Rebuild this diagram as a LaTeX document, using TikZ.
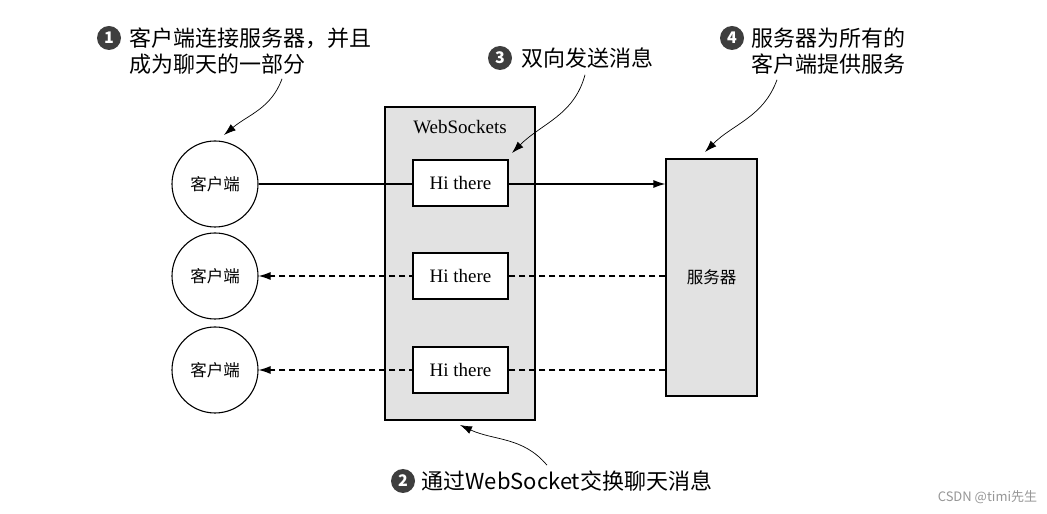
\documentclass[tikz,border=0pt]{standalone}
\usepackage{fontspec}
\setmainfont{Liberation Serif}
\newfontfamily\cjk{Noto Sans CJK SC}
\usetikzlibrary{arrows.meta,positioning}
\definecolor{boxgray}{RGB}{226,226,226}
\definecolor{numgray}{RGB}{62,62,62}
\definecolor{markgray}{RGB}{150,150,150}

\begin{document}
\begin{tikzpicture}[x=1pt, y=1pt, line width=1.1pt,
				client/.style={circle, draw, fill=white, minimum size=86pt, inner sep=0pt, font=\cjk\fontsize{16.5}{18}\selectfont},
				msg/.style={rectangle, draw, fill=white, minimum width=95pt, minimum height=46pt, inner sep=0pt, font=\fontsize{19}{22}\selectfont},
				grayrect/.style={rectangle, draw, fill=boxgray, inner sep=0pt},
				num/.style={circle, fill=numgray, text=white, minimum size=24pt, inner sep=0pt, font=\cjk\bfseries\fontsize{16}{16}\selectfont},
				note/.style={anchor=west, align=left, inner sep=0pt, font=\cjk\fontsize{22}{26}\selectfont},
				tip/.style={-{Latex[length=12pt,width=8pt]}},
				hint/.style={line width=0.7pt, -{Latex[length=12pt,width=8pt]}}]
				\useasboundingbox (0,0) rectangle (1047,514);

				% websockets channel and server
				\node[grayrect, minimum width=150pt, minimum height=313pt] (ws) at (460,250.5) {};
				\node[font=\fontsize{19}{22}\selectfont] (wslbl) at (460,387) {WebSockets};
				\node[grayrect, minimum width=91pt, minimum height=237pt, font=\cjk\fontsize{16.5}{18}\selectfont] (srv) at (711.5,236.5) {服务器};

				% clients
				\node[client] (c1) at (215,330) {客户端};
				\node[client] (c2) at (215,238) {客户端};
				\node[client] (c3) at (215,144) {客户端};

				\draw[tip] (c1.east) -- (c1.east -| srv.west);
				\draw[tip, dashed, dash pattern=on 6pt off 4pt] (c2.east -| srv.west) -- (c2.east);
				\draw[tip, dashed, dash pattern=on 6pt off 4pt] (c3.east -| srv.west) -- (c3.east);

				% messages
				\node[msg] (m1) at (460.5,331) {Hi there};
				\node[msg] (m2) at (460.5,238) {Hi there};
				\node[msg] (m3) at (460.5,144) {Hi there};

				% notes
				\node[num] (n1) at (109,476) {1};
				\node[note] (t1) at (129,463) {客户端连接服务器，并且\\成为聊天的一部分};
				\node[num] (n3) at (500,456) {3};
				\node[note] (t3) at (521,456) {双向发送消息};
				\node[num] (n4) at (732,476) {4};
				\node[note] (t4) at (751,463) {服务器为所有的\\客户端提供服务};
				\node[num] (n2) at (403,33) {2};
				\node[note] (t2) at (421,33) {通过WebSocket交换聊天消息};

				\coordinate (p1) at (224,379);
				\coordinate (p3) at (512,361);
				\coordinate (p4) at (705,362);
				\coordinate (p2) at (460,89);

				\draw[hint] ([xshift=153pt,yshift=-4pt]t1.south west) to[out=250, in=40] (p1);
				\draw[hint] ([xshift=64pt,yshift=-6pt]t3.south west) to[out=255, in=45] (p3);
				\draw[hint] ([xshift=26pt,yshift=-5pt]t4.south west) to[out=250, in=45] (p4);
				\draw[hint] ([xshift=126pt,yshift=5pt]t2.north west) to[out=130, in=-25] (p2);

				\node[font=\cjk\fontsize{13}{15}\selectfont, text=markgray, anchor=east] (mark) at (1041,17) {CSDN @timi先生};
			\end{tikzpicture}
\end{document}
